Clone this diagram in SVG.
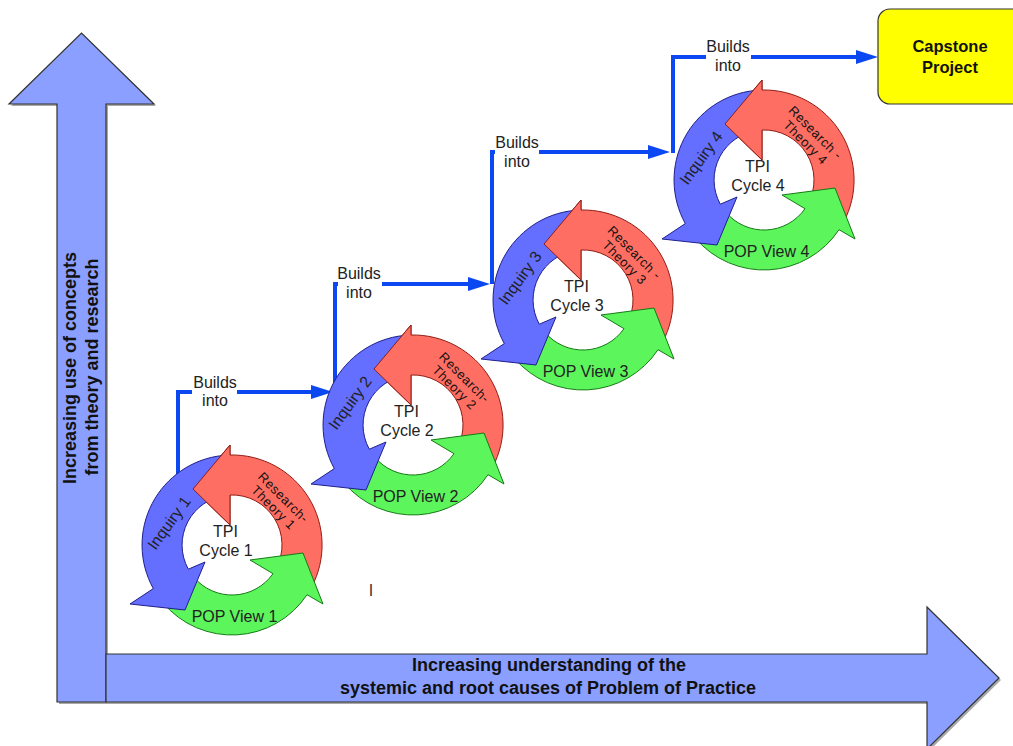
<svg xmlns="http://www.w3.org/2000/svg" width="1013" height="746" viewBox="0 0 1013 746">
<style>
.ax{fill:#8a9fff;stroke:#333;stroke-width:1.2;stroke-linejoin:miter}
.axs{fill:#a8a8a8}
.axt{font-family:"Liberation Sans",Arial,sans-serif;font-weight:bold;font-size:18px;fill:#111;text-anchor:middle}
.con{fill:none;stroke:#0b48f2;stroke-width:4;stroke-linejoin:miter}
.lbl{font-family:"Liberation Sans",Arial,sans-serif;font-size:16px;fill:#222;text-anchor:middle}
.ct{font-family:"Liberation Sans",Arial,sans-serif;font-size:16px;fill:#222;text-anchor:middle}
.rt{font-family:"Liberation Sans",Arial,sans-serif;font-size:13px;fill:#111;text-anchor:middle;letter-spacing:0.6px}
.bl{fill:#646eff;stroke:#1f1f8a;stroke-width:1}
.rd{fill:#ff6e62;stroke:#8f1d14;stroke-width:1}
.gr{fill:#5cf55c;stroke:#167a16;stroke-width:1}
.cap{fill:#ffff00;stroke:#333;stroke-width:1.2}
.capt{font-family:"Liberation Sans",Arial,sans-serif;font-weight:bold;font-size:16.5px;fill:#111;text-anchor:middle}
</style>
<defs>
<marker id="ah" markerUnits="userSpaceOnUse" markerWidth="24" markerHeight="16" refX="0" refY="8" orient="auto"><path d="M0,1 L22,8 L0,15 Z" fill="#0b48f2"/></marker>
<g id="cyc">
 <path class="rd" d="M-2,-100 L-2,-90 A90,90 0 0 1 79.5,42.3 L44.1,23.5 A50,50 0 0 0 -2,-50 L-2,-20 L-39,-56 Z"/>
 <path class="gr" d="M-68.9,57.9 A90,90 0 0 0 75,49.7 L91,59 L71,8 L18,15 L41,28.7 A50,50 0 0 1 -38.3,32.1 Z"/>
 <path class="bl" d="M-102,59 L-47,65 L-27,17 L-43.7,24.2 A50,50 0 0 1 -5.2,-49.7 L-9.4,-89.5 A90,90 0 0 0 -78.7,43.6 Z"/>
 <path d="M-2,-100 L-39,-56 L-2,-20 Z" fill="#ff6e62"/>
 <path d="M-2,-90 L-2,-100 L-39,-56 L-2,-20 L-2,-50" fill="none" stroke="#8f1d14" stroke-width="1"/>
</g>
</defs>

<g id="axis-vertical">
 <polygon class="axs" points="59,704 59,106 11,106 83.5,35 156,106 108,106 108,704"/>
 <polygon class="ax" points="57,702 57,104 9,104 81.5,33 154,104 106,104 106,702"/>
 <text class="axt" transform="translate(76,368) rotate(-90)">Increasing use of concepts</text>
 <text class="axt" transform="translate(98,367) rotate(-90)">from theory and research</text>
</g>
<g id="axis-horizontal">
 <polygon class="axs" points="108,656 929,656 929,609 1001,680 929,751 929,704 108,704"/>
 <polygon class="ax" points="106,654 927,654 927,607 999,678 927,749 927,702 106,702"/>
 <text class="axt" x="549" y="671">Increasing understanding of the</text>
 <text class="axt" x="548" y="694">systemic and root causes of Problem of Practice</text>
</g>

<g id="connectors">
 <path class="con" d="M178,480 V392 H311" marker-end="url(#ah)"/>
 <path class="con" d="M335,392 V284 H468" marker-end="url(#ah)"/>
 <path class="con" d="M492,284 V152 H648" marker-end="url(#ah)"/>
 <path class="con" d="M673,153 V57 H856" marker-end="url(#ah)"/>
 <rect x="192" y="384" width="45" height="16" fill="#fff"/>
 <text class="lbl" x="215" y="388">Builds</text>
 <text class="lbl" x="215" y="406">into</text>
 <rect x="338" y="276" width="44" height="16" fill="#fff"/>
 <text class="lbl" x="359" y="279">Builds</text>
 <text class="lbl" x="359" y="298">into</text>
 <rect x="495" y="144" width="44" height="16" fill="#fff"/>
 <text class="lbl" x="517" y="148">Builds</text>
 <text class="lbl" x="517" y="167">into</text>
 <rect x="706" y="49" width="45" height="16" fill="#fff"/>
 <text class="lbl" x="728" y="52">Builds</text>
 <text class="lbl" x="728" y="71">into</text>
</g>

<g id="cycle1" transform="translate(232,545)">
 <use href="#cyc"/>
 <text class="ct" x="-6.5" y="-8.5">TPI</text>
 <text class="ct" x="-6" y="11">Cycle 1</text>
 <text class="ct" x="2.5" y="77">POP View 1</text>
 <text class="ct" transform="translate(-63,-22) rotate(-54)" y="5.5">Inquiry 1</text>
 <g transform="translate(46.5,-42.5) rotate(45)"><text class="rt" y="-2.5">Research-</text><text class="rt" y="11.5">Theory 1</text></g>
</g>
<g id="cycle2" transform="translate(413,425)">
 <use href="#cyc"/>
 <text class="ct" x="-6.5" y="-8.5">TPI</text>
 <text class="ct" x="-6" y="11">Cycle 2</text>
 <text class="ct" x="2.5" y="77">POP View 2</text>
 <text class="ct" transform="translate(-63,-22) rotate(-54)" y="5.5">Inquiry 2</text>
 <g transform="translate(46.5,-42.5) rotate(45)"><text class="rt" y="-2.5">Research-</text><text class="rt" y="11.5">Theory 2</text></g>
</g>
<g id="cycle3" transform="translate(583,300)">
 <use href="#cyc"/>
 <text class="ct" x="-6.5" y="-8.5">TPI</text>
 <text class="ct" x="-6" y="11">Cycle 3</text>
 <text class="ct" x="2.5" y="77">POP View 3</text>
 <text class="ct" transform="translate(-63,-22) rotate(-54)" y="5.5">Inquiry 3</text>
 <g transform="translate(46.5,-42.5) rotate(45)"><text class="rt" y="-2.5">Research -</text><text class="rt" y="11.5">Theory 3</text></g>
</g>
<g id="cycle4" transform="translate(764,180)">
 <use href="#cyc"/>
 <text class="ct" x="-6.5" y="-8.5">TPI</text>
 <text class="ct" x="-6" y="11">Cycle 4</text>
 <text class="ct" x="2.5" y="77">POP View 4</text>
 <text class="ct" transform="translate(-63,-22) rotate(-54)" y="5.5">Inquiry 4</text>
 <g transform="translate(46.5,-42.5) rotate(45)"><text class="rt" y="-2.5">Research -</text><text class="rt" y="11.5">Theory 4</text></g>
</g>

<g id="capstone">
 <rect class="cap" x="878" y="9" width="150" height="95" rx="12" ry="12"/>
 <text class="capt" x="950" y="52">Capstone</text>
 <text class="capt" x="950" y="73">Project</text>
</g>

<text class="ct" x="371" y="596" style="fill:#333">I</text>
</svg>
